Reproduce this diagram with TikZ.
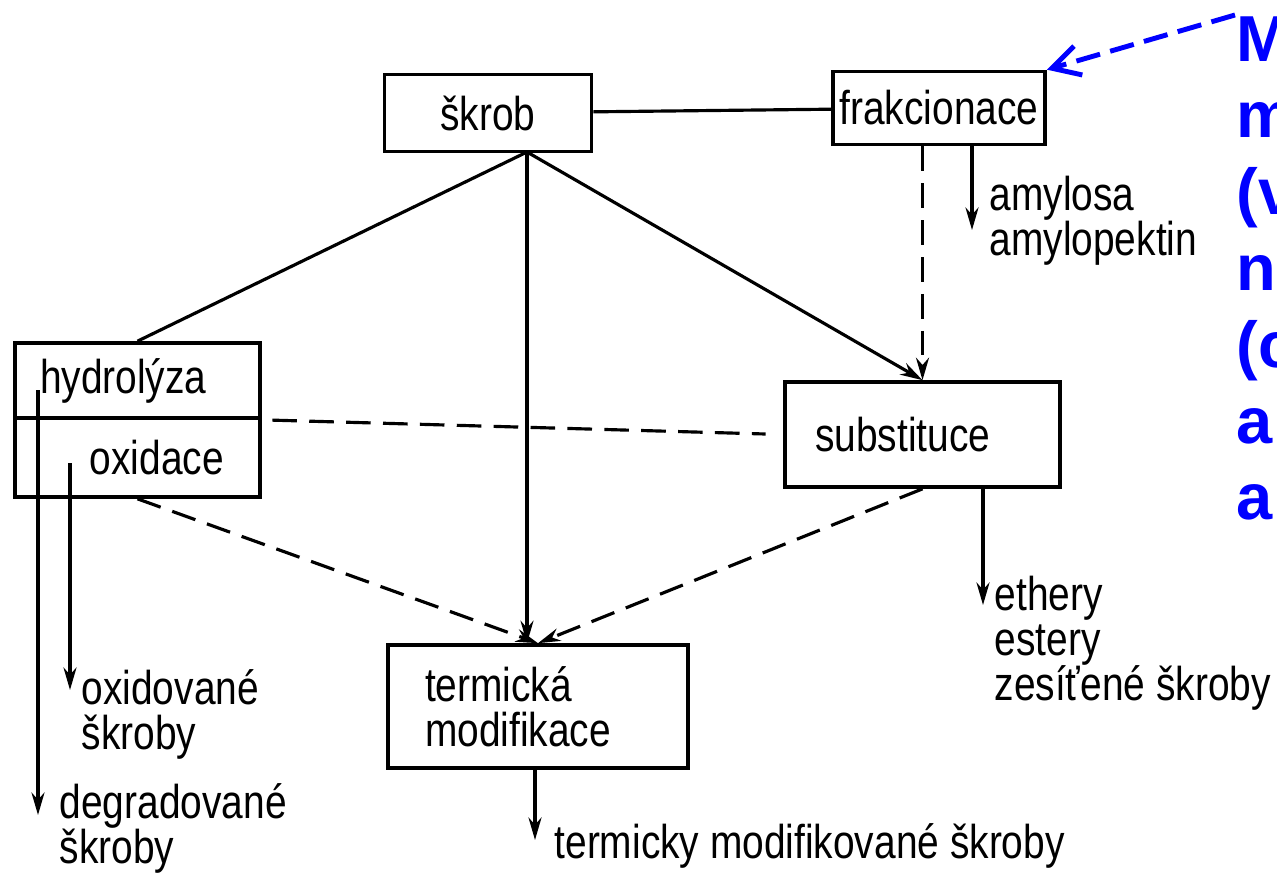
\documentclass[tikz,border=0pt]{standalone}
\usepackage{fontspec}
\setmainfont{Liberation Sans}[FakeStretch=0.82]
\newfontfamily\notefont{Liberation Sans}
\usetikzlibrary{arrows.meta}

\begin{document}
\begin{tikzpicture}[x=0.02cm, y=-0.02cm, line width=1.8pt,
    >={Stealth[length=0.45cm,width=0.26cm]},
    font=\fontsize{27}{25.6}\selectfont]
    \tikzstyle{box}=[rectangle,draw,line width=2.1pt,inner sep=0pt]
    \tikzstyle{txt}=[inner sep=0pt,anchor=north west,align=left]
    \tikzstyle{dsh}=[dash pattern=on 14pt off 7pt]
    \useasboundingbox (0,0) rectangle (1277,875);

    % process boxes
    \node[box,minimum width=4.14cm,minimum height=1.54cm] (skrob) at (488,113) {škrob};
    \node[box,minimum width=4.24cm,minimum height=1.46cm] (frakce) at (939,108) {frakcionace};
    \node[box,minimum height=1.5cm,text width=3.9cm,inner xsep=0.5cm,align=left] (hydro) at (137.5,380.5) {hydrolýza};
    \node[box,minimum height=1.58cm,text width=3.46cm,inner xsep=0.72cm,align=right] (oxid) at (137.5,457.5) {oxidace};
    \node[box,minimum height=2.1cm,text width=4.3cm,inner xsep=0.6cm,align=left] (subst) at (922.5,434.5) {substituce};
    \node[box,minimum height=2.46cm,text width=4.52cm,inner xsep=0.74cm,align=left] (termo) at (538,706.5) {termická\\modifikace};

    % products
    \node[txt] (amyl) at (988,175) {amylosa\\amylopektin};
    \node[txt] (ethery) at (993,575) {ethery\\estery\\zesíťené škroby};
    \node[txt] (oxsk) at (80,668) {oxidované\\ škroby};
    \node[txt] (degsk) at (58,782) {degradované\\škroby};
    \node[txt] (termsk) at (553,822) {termicky modifikované škroby};

    \coordinate (apex) at (527,152);
    \coordinate (amylend) at (972,230);
    \coordinate (ethend) at (983,605);
    \coordinate (termend) at (535,840);
    \coordinate (oxstart) at (70,463);
    \coordinate (oxend) at (70,690);
    \coordinate (degstart) at (38,390);
    \coordinate (degend) at (38,815);

    \draw (skrob) -- (frakce);
    \draw (apex) -- (hydro.north);
    \draw[->] (apex) -- (apex |- termo.north);
    \draw[->] (apex) -- (subst.north);
    \draw[dsh,->] (frakce.south -| subst.north) -- (subst.north);
    \draw[->] (amylend |- frakce.south) -- (amylend);
    \draw[dsh,shorten <=6pt,shorten >=10pt] (hydro.south east) -- (subst.west);
    \draw[dsh,->] (oxid.south) -- (termo.north);
    \draw[dsh,->] (subst.south) -- (termo.north);
    \draw[->] (ethend |- subst.south) -- (ethend);
    \draw[->] (termend |- termo.south) -- (termend);
    \draw[->] (oxstart) -- (oxend);
    \draw[->] (degstart) -- (degend);

    % blue side note
    \node[txt,text=blue,font=\notefont\bfseries\fontsize{37}{43.5}\selectfont] (note) at (1235,15) {M\\m\\(v\\n\\(c\\a\\a};
    \draw[blue,line width=2.8pt,dash pattern=on 14pt off 6pt,-{Straight Barb[length=0.55cm,width=0.6cm]}]
        (note.north west) -- (frakce.north east);
\end{tikzpicture}
\end{document}
